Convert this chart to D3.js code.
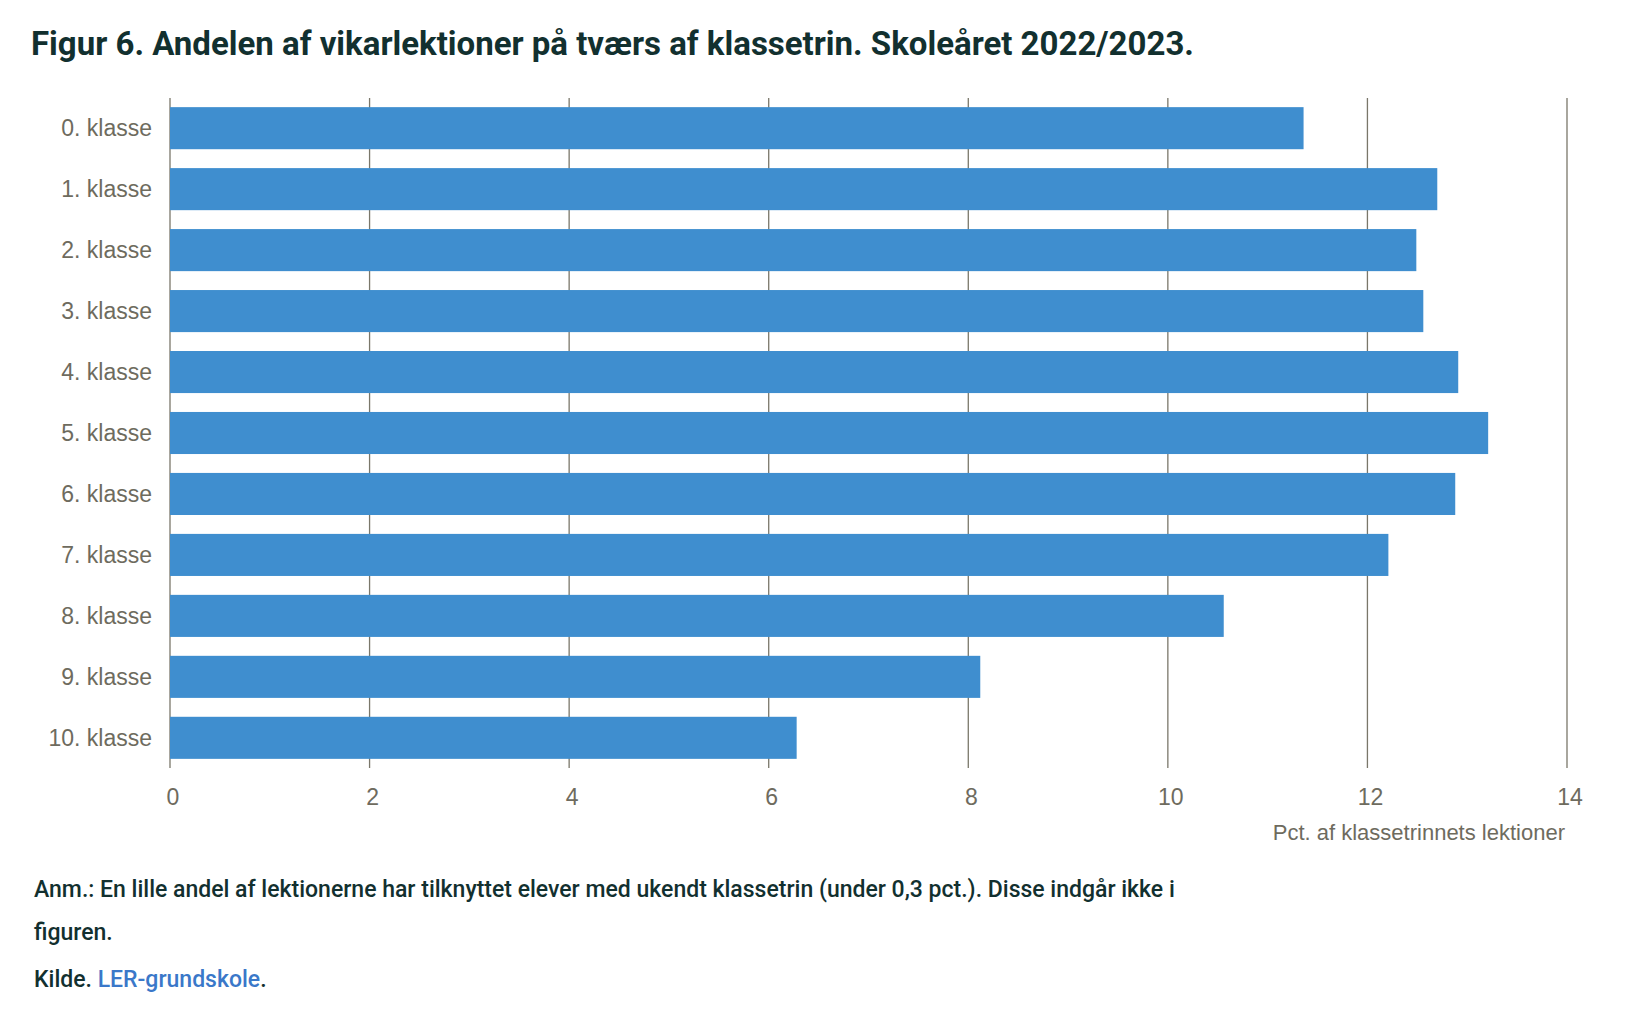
<!DOCTYPE html>
<html><head><meta charset="utf-8">
<script src="https://cdn.jsdelivr.net/npm/d3@7"></script>
<style>body{margin:0;background:#fff}</style>
</head><body>
<div class="canva"></div>
<script>
const categories = ["0. klasse","1. klasse","2. klasse","3. klasse","4. klasse","5. klasse","6. klasse","7. klasse","8. klasse","9. klasse","10. klasse"];
const values = [11.36,12.70,12.49,12.56,12.91,13.21,12.88,12.21,10.56,8.12,6.28];
const ticks = [0,2,4,6,8,10,12,14];

const svg = d3.select(".canva").append("svg").attr("width",1634).attr("height",1020);

// title
svg.append("text").text("Figur 6. Andelen af vikarlektioner på tværs af klassetrin. Skoleåret 2022/2023.")
  .attr("x",31).attr("y",55).attr("font-family","Roboto").attr("font-weight","bold")
  .attr("font-size",33).attr("fill","#12302f");

const x = d3.scaleLinear().domain([0,14]).range([170,1567]);
const y = d3.scaleBand().domain(categories).range([98,768]).paddingInner(0.31).paddingOuter(0.15);

// gridlines
svg.append("g").selectAll("line").data(ticks).join("line")
  .attr("x1",d=>x(d)).attr("x2",d=>x(d)).attr("y1",98).attr("y2",768)
  .attr("stroke","#7a776a").attr("stroke-width",1.3);

svg.append("g").selectAll("rect").data(values).join("rect")
  .attr("x",x(0)).attr("y",(d,i)=>y(categories[i]))
  .attr("width",d=>x(d)-x(0)).attr("height",y.bandwidth())
  .attr("fill","#3f8ecf");

const lab = {"font-family":"Liberation Sans","font-size":23,"fill":"#6e6b5e"};
const setA = (s,o)=>{for(const k in o) s.attr(k,o[k]); return s;};

setA(svg.append("g").selectAll("text").data(categories).join("text")
  .text(d=>d).attr("x",152).attr("y",d=>y(d)+y.bandwidth()/2+8).attr("text-anchor","end"),lab);

setA(svg.append("g").selectAll("text").data(ticks).join("text")
  .text(d=>d).attr("x",d=>x(d)+3).attr("y",805).attr("text-anchor","middle"),lab);

setA(svg.append("text").text("Pct. af klassetrinnets lektioner").attr("x",1565).attr("y",840)
  .attr("text-anchor","end"),lab).attr("font-size",22);

const note = {"font-family":"Roboto","font-size":23,"fill":"#12302f","font-weight":500};
setA(svg.append("text").text("Anm.: En lille andel af lektionerne har tilknyttet elever med ukendt klassetrin (under 0,3 pct.). Disse indgår ikke i")
  .attr("x",34).attr("y",897),note);
setA(svg.append("text").text("figuren.").attr("x",34).attr("y",940),note);
const k = setA(svg.append("text").attr("x",34).attr("y",987),note);
k.append("tspan").text("Kilde. ");
k.append("tspan").text("LER-grundskole").attr("fill","#3a78c9");
k.append("tspan").text(".");
</script>
</body></html>
